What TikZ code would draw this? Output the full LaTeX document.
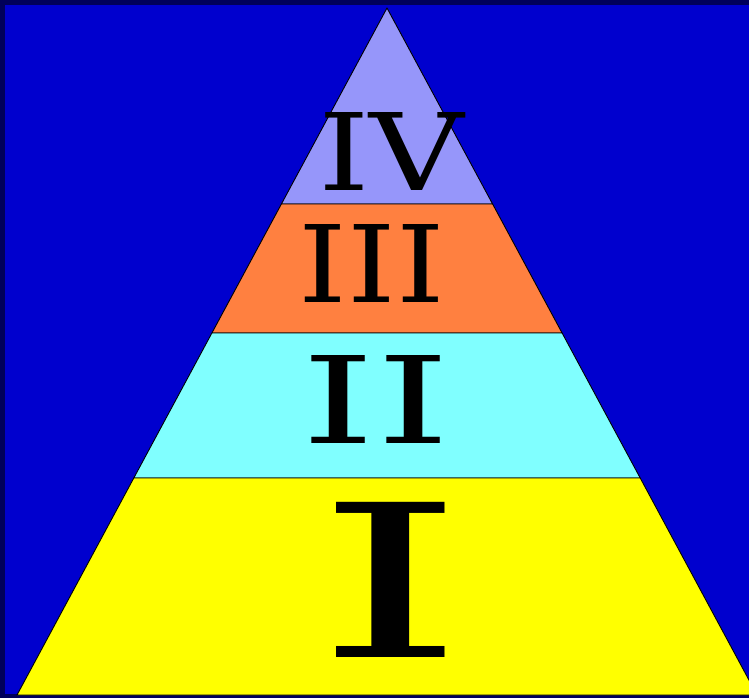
\documentclass[tikz,border=0pt]{standalone}
\usepackage{graphicx}
\usepackage{fontspec}
\setmainfont{DejaVu Serif}
\definecolor{navyedge}{RGB}{0,0,90}
\definecolor{skyfield}{RGB}{0,0,206}
\definecolor{tierfour}{RGB}{150,150,250}
\definecolor{tierthree}{RGB}{255,128,64}
\definecolor{tiertwo}{RGB}{128,255,255}
\definecolor{tierone}{RGB}{255,255,0}
\tikzset{
  tier/.style={draw=black, line width=0.9pt, line join=round},
  numeral/.style={inner sep=0pt, text=black}
}
\begin{document}
\begin{tikzpicture}[x=1pt,y=-1pt]
  % Background field and dark frame.
  \fill[navyedge] (0,0) rectangle (749,698);
  \fill[skyfield] (5,5) rectangle (749,694);
  \useasboundingbox (0,0) rectangle (749,698);

  % Pyramid tiers, apex to base.
  \draw[tier, fill=tierfour] (387,8) -- (281.4,204) -- (492.6,204) -- cycle;
  \draw[tier, fill=tierthree] (281.4,204) -- (211.9,333) -- (562.1,333) --
              (492.6,204) -- cycle;
  \draw[tier, fill=tiertwo] (211.9,333) -- (133.8,478) -- (640.2,478) --
              (562.1,333) -- cycle;
  \draw[tier, fill=tierone] (133.8,478) -- (17,695) -- (757,695) --
              (640.2,478) -- cycle;

  % Tier numerals.
  \node[numeral] (four) at (391,151) {\resizebox{146pt}{78pt}{IV}};
  \node[numeral] (three) at (372,263) {\resizebox{146pt}{78pt}{III}};
  \node[numeral] (two) at (376,399) {\resizebox{148pt}{88pt}{II}};
  \node[numeral] (one) at (391,580) {\resizebox{150pt}{155pt}{I}};
\end{tikzpicture}
\end{document}
